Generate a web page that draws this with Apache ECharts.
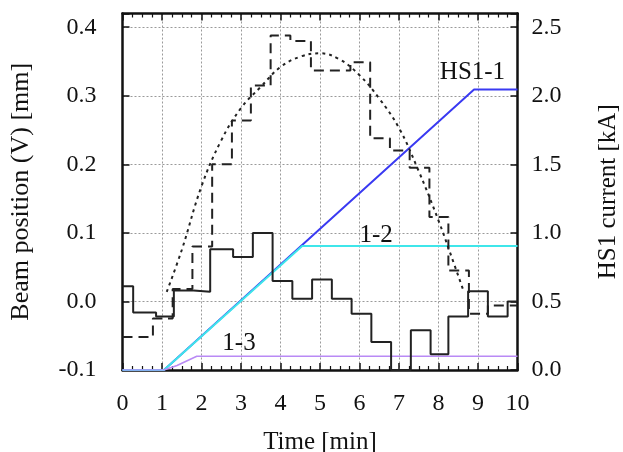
<!DOCTYPE html>
<html>
<head>
<meta charset="utf-8">
<script src="https://cdn.jsdelivr.net/npm/echarts@6/dist/echarts.min.js"></script>
<style>
html,body{margin:0;padding:0;background:#fff;}
#c{width:623px;height:452px;}
</style>
</head>
<body>
<div id="c"></div>
<script>
// ---- data ----
// Solid step: measured beam position [mm] (left axis)
const solidX = [0, 0.27, 0.85, 1.3, 1.8, 2.22, 2.8, 3.3, 3.8, 4.3, 4.8, 5.3, 5.8, 6.3, 6.8, 7.3, 7.8, 8.25, 8.75, 9.25, 9.75, 10];
const solidY = [0.022, -0.016, -0.022, 0.016, 0.014, 0.076, 0.065, 0.100, 0.030, 0.004, 0.032, 0.004, -0.018, -0.059, -0.100, -0.042, -0.077, -0.022, 0.015, -0.022, 0.000, 0.000];
// Dashed step: beam position [mm] (left axis)
const dashX = [0, 0.77, 1.27, 1.77, 2.27, 2.77, 3.25, 3.75, 4.25, 4.77, 5.77, 6.27, 6.77, 7.27, 7.77, 8.25, 8.77, 9.25, 9.75, 10];
const dashY = [-0.052, -0.025, 0.018, 0.080, 0.200, 0.264, 0.315, 0.388, 0.380, 0.337, 0.349, 0.238, 0.220, 0.195, 0.123, 0.045, -0.018, -0.006, -0.006, -0.006];
// Dotted smooth curve (left axis)
const fitX = [1.12, 1.5, 2.0, 2.5, 3.0, 3.5, 4.0, 4.5, 5.0, 5.5, 6.0, 6.5, 7.0, 7.5, 8.0, 8.3, 8.63];
const fitY = [0.014, 0.075, 0.168, 0.235, 0.282, 0.313, 0.342, 0.357, 0.362, 0.353, 0.330, 0.296, 0.253, 0.190, 0.118, 0.070, 0.016];
// HS1 currents [kA] (right axis)
const hs11X = [0, 1.05, 8.9, 10];
const hs11Y = [0, 0, 2.045, 2.045];
const hs12X = [0, 1.05, 4.55, 10];
const hs12Y = [0, 0, 0.905, 0.905];
const hs13X = [0, 1.05, 1.38, 1.88, 10];
const hs13Y = [0, 0, 0.033, 0.1, 0.1];
// Curve labels: [text, x, kA]
const curveLabels = [['HS1-1', 8.86, 2.17], ['1-2', 6.42, 0.98], ['1-3', 2.95, 0.197]];

const zip = (xs, ys) => xs.map((x, i) => [x, ys[i]]);
const FONT = "'Liberation Serif', 'Times New Roman', Times, serif";
const gridLine = {show: true, lineStyle: {color: '#9a9a9a', type: [2, 2], width: 1}};
const frame = {show: true, onZero: false, lineStyle: {color: '#111', width: 2.5}};
const tick = {show: true, inside: true, length: 7, lineStyle: {color: '#111', width: 1.5}};
const minor = {show: true, splitNumber: 4, length: 4, lineStyle: {color: '#111', width: 1.2}};
const lbl = (extra) => Object.assign({color: '#111', fontFamily: FONT, fontSize: 24}, extra);
const nameStyle = (fs) => ({color: '#111', fontFamily: FONT, fontSize: fs});

function labelPoint(i) {
  return {
    symbol: 'rect', symbolSize: 1, itemStyle: {color: 'rgba(0,0,0,0)'},
    label: {show: true, position: 'inside', formatter: curveLabels[i][0], color: '#111', fontFamily: FONT, fontSize: 25},
    data: [{coord: [curveLabels[i][1], curveLabels[i][2]], value: curveLabels[i][0]}], animation: false
  };
}

const chart = echarts.init(document.getElementById('c'), null, {renderer: 'canvas'});
chart.setOption({
  animation: false,
  backgroundColor: '#fff',
  grid: {left: 122.5, right: 105.5, top: 13.5, bottom: 82, containLabel: false, outerBoundsMode: 'none'},
  xAxis: [
    {type: 'value', position: 'bottom', min: 0, max: 10, interval: 1,
     axisLine: frame, axisTick: tick, minorTick: minor, splitLine: gridLine,
     axisLabel: lbl({margin: 22}),
     name: 'Time [min]', nameLocation: 'middle', nameGap: 60, nameTextStyle: nameStyle(25)},
    {type: 'value', position: 'top', min: 0, max: 10, interval: 1,
     axisLine: frame, axisTick: tick, minorTick: minor, splitLine: {show: false},
     axisLabel: {show: false}}
  ],
  yAxis: [
    {type: 'value', position: 'left', min: -0.1, max: 0.42, interval: 0.1,
     axisLine: frame, axisTick: tick, splitLine: gridLine,
     axisLabel: lbl({margin: 26, formatter: v => (v > 0.41 ? '' : v.toFixed(1))}),
     name: 'Beam position (V) [mm]', nameLocation: 'middle', nameGap: 88, nameRotate: 90, nameTextStyle: nameStyle(26)},
    {type: 'value', position: 'right', min: 0, max: 2.6, interval: 0.5,
     axisLine: frame, axisTick: tick, splitLine: {show: false},
     axisLabel: lbl({margin: 14, formatter: v => (v > 2.55 ? '' : v.toFixed(1))}),
     name: 'HS1 current [kA]', nameLocation: 'middle', nameGap: 78, nameRotate: 90, nameTextStyle: nameStyle(25)}
  ],
  series: [
    {type: 'line', name: 'HS1-1', yAxisIndex: 1, data: zip(hs11X, hs11Y), showSymbol: false, symbol: 'none',
     lineStyle: {color: '#3a3af2', width: 2}, markPoint: labelPoint(0), z: 3},
    {type: 'line', name: '1-2', yAxisIndex: 1, data: zip(hs12X, hs12Y), showSymbol: false, symbol: 'none',
     lineStyle: {color: '#3fe6ea', width: 2}, markPoint: labelPoint(1), z: 4},
    {type: 'line', name: '1-3', yAxisIndex: 1, data: zip(hs13X, hs13Y), showSymbol: false, symbol: 'none',
     lineStyle: {color: '#b98af5', width: 1.6}, markPoint: labelPoint(2), z: 5},
    {type: 'line', name: 'fit', yAxisIndex: 0, data: zip(fitX, fitY), smooth: 0.4, showSymbol: false, symbol: 'none',
     lineStyle: {color: '#222', width: 2, type: [3, 4]}, z: 6},
    {type: 'line', name: 'dashed', yAxisIndex: 0, data: zip(dashX, dashY), step: 'end', showSymbol: false, symbol: 'none',
     lineStyle: {color: '#222', width: 2, type: [10, 6]}, z: 7},
    {type: 'line', name: 'solid', yAxisIndex: 0, data: zip(solidX, solidY), step: 'end', showSymbol: false, symbol: 'none',
     lineStyle: {color: '#222', width: 2}, z: 8}
  ]
});
</script>
</body>
</html>
